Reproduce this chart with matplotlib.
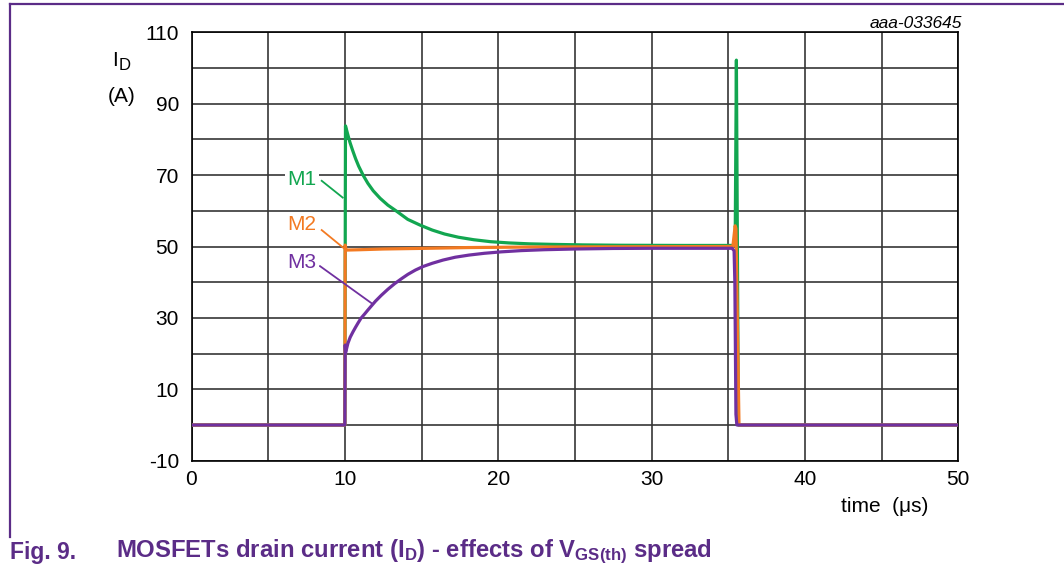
import matplotlib
matplotlib.use("Agg")
import matplotlib.pyplot as plt
from matplotlib.lines import Line2D

plt.rcParams['font.family'] = ['Liberation Sans', 'DejaVu Sans']
plt.rcParams['mathtext.fontset'] = 'custom'
plt.rcParams['mathtext.rm'] = 'Liberation Sans'
plt.rcParams['mathtext.bf'] = 'Liberation Sans:bold'
plt.rcParams['axes.unicode_minus'] = False

# Drain current traces (time in microseconds, current in amperes)
t_m1 = [0, 10.0, 10.04, 10.2, 10.33, 10.5, 10.7, 10.9, 11.2, 11.5, 11.85, 12.3,
        12.8, 13.4, 14.1, 14.9, 15.7, 16.5, 17.4, 18.4, 19.5, 20.7, 22.0, 23.5,
        25.5, 28.0, 32.0, 35.45, 35.53, 35.66, 50]
i_m1 = [0, 0, 83.8, 81.2, 79.2, 77.0, 74.6, 72.5, 69.9, 67.7, 65.6, 63.5,
        61.6, 59.8, 57.6, 56.0, 54.6, 53.5, 52.6, 51.9, 51.35, 51.0, 50.75, 50.6,
        50.45, 50.35, 50.3, 50.3, 102.2, 0, 0]

t_m2 = [0, 10.0, 10.02, 10.08, 11.0, 12.5, 15.4, 18.0, 22.0, 30.0, 35.3, 35.45,
        35.5, 35.7, 50]
i_m2 = [0, 0, 50.4, 49.0, 49.1, 49.3, 49.5, 49.7, 49.85, 49.95, 50.0, 55.8,
        55.0, 0, 0]

t_m3 = [0, 10.0, 10.02, 10.05, 10.2, 10.35, 10.53, 10.7, 10.85, 11.05, 11.29,
        11.5, 11.72, 12.0, 12.37, 12.8, 13.25, 13.7, 14.11, 14.6, 15.1, 15.7,
        16.4, 17.2, 18.1, 19.1, 20.2, 21.5, 23.0, 25.0, 27.5, 30.0, 35.25, 35.38,
        35.43, 35.5, 35.56, 50]
i_m3 = [0, 0, 22.4, 20.3, 22.9, 24.6, 26.1, 27.4, 28.5, 29.9, 31.1,
        32.2, 33.3, 34.7, 36.3, 38.0, 39.6, 41.0, 42.2, 43.4, 44.4, 45.3,
        46.2, 47.0, 47.6, 48.1, 48.5, 48.85, 49.1, 49.3, 49.45, 49.5, 49.5, 48.8,
        40.0, 3.0, 0, 0]

series_names = ['M1', 'M2', 'M3']
series_colors = ['#12a650', '#f37a22', '#7030a0']

x_major = [0, 10, 20, 30, 40, 50]
x_minor = [5, 15, 25, 35, 45]
y_major = [-10, 10, 30, 50, 70, 90, 110]
y_minor = [0, 20, 40, 60, 80, 100]

# Annotation positions: text centre, leader start, leader end
label_text_pos = [(7.2, 68.9), (7.2, 56.3), (7.2, 45.5)]
leader_start = [(8.49, 68.4), (8.49, 54.6), (8.38, 44.5)]
leader_end = [(9.86, 63.7), (9.94, 49.5), (11.81, 33.9)]

frame_purple = '#5b2c87'

fig = plt.figure(figsize=(10.64, 5.72), dpi=100)
W, H = 1064, 572
ax = fig.add_axes([191.5 / W, 1 - 460.7 / H, (958.3 - 191.5) / W, (460.7 - 32.3) / H])

ax.set_xlim(0, 50)
ax.set_ylim(-10, 110)
ax.set_xticks(x_major)
ax.set_xticks(x_minor, minor=True)
ax.set_yticks(y_major)
ax.set_yticks(y_minor, minor=True)
ax.tick_params(which='both', length=0, labelsize=15, colors='black')
ax.tick_params(axis='x', pad=7)
ax.tick_params(axis='y', pad=9)
ax.grid(which='both', color='#363636', lw=1.2)
ax.set_axisbelow(True)
for sp in ax.spines.values():
    sp.set_color('black')
    sp.set_linewidth(1.2)

# Traces (M3 drawn last so it lies on top)
for t, i, c in zip([t_m1, t_m2, t_m3], [i_m1, i_m2, i_m3], series_colors):
    ax.plot(t, i, color=c, lw=2.3, solid_joinstyle='round', zorder=3)

# Series labels with leader lines
for name, c, tp, ls, le in zip(series_names, series_colors, label_text_pos,
                               leader_start, leader_end):
    ax.plot([ls[0], le[0]], [ls[1], le[1]], color=c, lw=1.3, zorder=4)
    ax.text(tp[0], tp[1], name, color=c, fontsize=15, ha='center', va='center',
            zorder=5, bbox=dict(facecolor='white', edgecolor='none', pad=1.5))

# Axis titles
fig.text(112 / W, 1 - 60 / H, 'I', fontsize=15, ha='left', va='center')
fig.text(119 / W, 1 - 66 / H, 'D', fontsize=12, ha='left', va='center')
fig.text(122 / W, 1 - 96 / H, '(A)', fontsize=15, ha='center', va='center')
fig.text(885 / W, 1 - 506 / H, 'time  (μs)', fontsize=15, ha='center', va='center')
fig.text(962 / W, 1 - 24 / H, 'aaa-033645', fontsize=12.5, style='italic',
         ha='right', va='center')

# Caption
fig.text(10 / W, 1 - 552 / H, 'Fig. 9.', fontsize=16.5, fontweight='bold',
         color=frame_purple, ha='left', va='center')
fig.text(116 / W, 1 - 552 / H,
         r'MOSFETs drain current ($\mathbf{I_D}$) - effects of $\mathbf{V_{GS(th)}}$ spread',
         fontsize=17.2, fontweight='bold', color=frame_purple, ha='left', va='center')

# Figure frame: top rule and left rule
fig.add_artist(Line2D([10 / W, 1], [1 - 4 / H, 1 - 4 / H], color=frame_purple, lw=1.6,
                      transform=fig.transFigure))
fig.add_artist(Line2D([10 / W, 10 / W], [1 - 4 / H, 1 - 537 / H], color=frame_purple,
                      lw=1.6, transform=fig.transFigure))

fig.savefig('out.png', dpi=100)
